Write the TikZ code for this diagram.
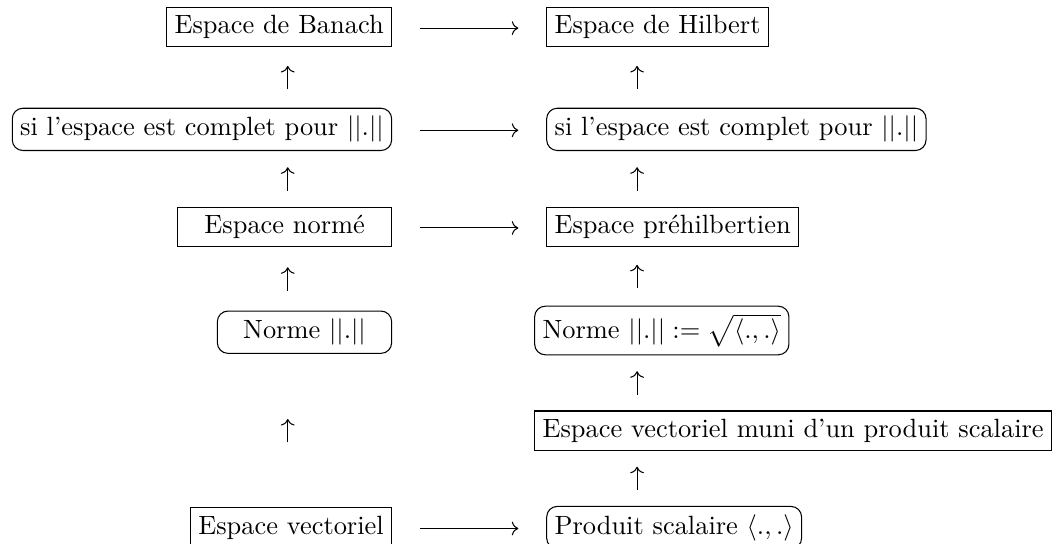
\documentclass[tikz,border=0pt]{standalone}
\usepackage{fontspec}
\usepackage{amsmath, amssymb}
\usepackage{tikz}
\usetikzlibrary{arrows.meta, calc}
\tikzset{
  boite/.style={draw, inner sep=3pt, line width=0.4pt},
  ovale/.style={boite, rounded corners=4pt},
  fleche/.style={-{To}, line width=0.4pt}
}
\newcommand{\montee}[2]{\draw[fleche] ($(#1)!0.5!(#2)$) ++(0,-0.155) -- ++(0,0.31);}

\begin{document}
\begin{tikzpicture}
                    \useasboundingbox (0,0) rectangle (14.03,7.24);
                    \coordinate (cg) at (3.83,0);
                    \coordinate (cd) at (8.48,0);
                    \coordinate (hg) at (5.59,0);
                    \coordinate (hd) at (6.90,0);
                    \node[boite, anchor=base east] (banach) at (5.22,6.79) {Espace de Banach};
                    \node[ovale, anchor=base east] (complg) at (5.22,5.43) {si l'espace est complet pour $||.||$};
                    \node[boite, anchor=base east, minimum width=81pt] (norme) at (5.22,4.13) {Espace normé};
                    \node[ovale, anchor=base east, minimum width=66pt] (normg) at (5.22,2.73) {Norme $||.||$};
                    \node[boite, anchor=base east] (vect) at (5.22,0.13) {Espace vectoriel};
                    \node[boite, anchor=base west] (hilbert) at (7.27,6.79) {Espace de Hilbert};
                    \node[ovale, anchor=base west] (compld) at (7.27,5.43) {si l'espace est complet pour $||.||$};
                    \node[boite, anchor=base west] (prehilb) at (7.27,4.13) {Espace préhilbertien};
                    \node[ovale, anchor=base west] (normd) at (7.11,2.73) {Norme $||.|| := \sqrt{\langle .,. \rangle}$};
                    \node[boite, anchor=base west] (muni) at (7.11,1.42) {Espace vectoriel muni d'un produit scalaire};
                    \node[ovale, anchor=base west] (prod) at (7.27,0.13) {Produit scalaire $\langle .,. \rangle$};
                    \foreach \g/\d in {banach/hilbert, complg/compld, norme/prehilb, vect/prod}
                        \draw[fleche] (hg |- \g.mid) -- (hd |- \d.mid);
                    \foreach \h/\b in {banach/complg, complg/norme, norme/normg, normg/vect}
                        \montee{cg |- \b.north}{cg |- \h.south};
                    \foreach \h/\b in {hilbert/compld, compld/prehilb, prehilb/normd, normd/muni, muni/prod}
                        \montee{cd |- \b.north}{cd |- \h.south};
                \end{tikzpicture}
\end{document}
